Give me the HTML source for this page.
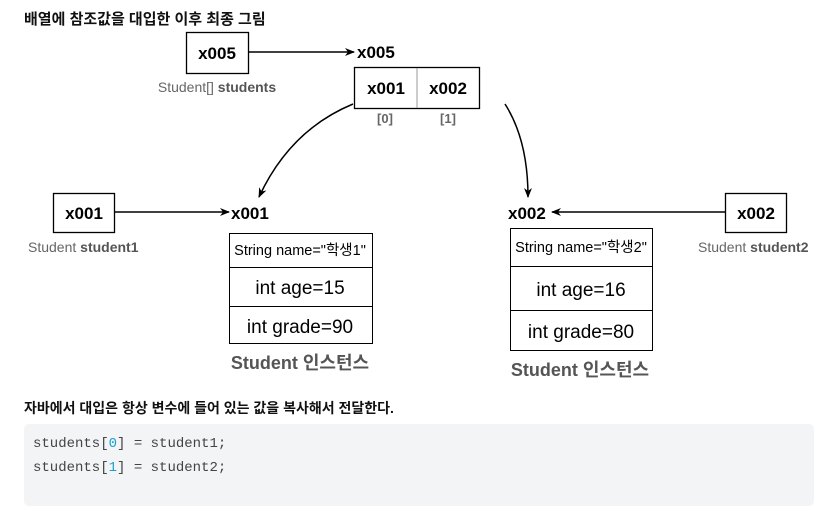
<!DOCTYPE html>
<html><head><meta charset="utf-8"><style>
body{margin:0;width:831px;height:529px;background:#fff;overflow:hidden;position:relative;font-family:"Liberation Sans","Noto Sans CJK KR",sans-serif}
.code{position:absolute;left:24px;top:424px;width:790px;height:82px;background:#f3f4f6;border-radius:5px}
.code pre{margin:0;padding:8px 0 0 9px;font-family:"Liberation Mono","DejaVu Sans Mono",monospace;font-size:14px;line-height:24px;color:#444}
.n{color:#1a9fd0}
</style></head><body>
<svg width="831" height="420" style="position:absolute;left:0;top:0" font-family="Liberation Sans, Noto Sans CJK KR, sans-serif">
<defs><marker id="a" markerWidth="10" markerHeight="8" refX="9" refY="4" orient="auto" markerUnits="userSpaceOnUse"><path d="M0,0 L10,4 L0,8 L3,4z" fill="#000"/></marker></defs>
<text x="24" y="24" font-size="15" font-weight="bold" fill="#111">배열에 참조값을 대입한 이후 최종 그림</text>
<rect x="186.5" y="32.5" width="62" height="41" fill="#fff" stroke="#000" stroke-width="1.3"/>
<text x="217" y="59" font-size="17" font-weight="bold" text-anchor="middle">x005</text>
<line x1="249" y1="52" x2="354" y2="52" stroke="#000" stroke-width="1.5" marker-end="url(#a)"/>
<text x="357" y="58" font-size="17" font-weight="bold">x005</text>
<text x="217" y="92" font-size="14" fill="#666" text-anchor="middle">Student[] <tspan font-weight="bold" fill="#555">students</tspan></text>
<rect x="354.5" y="67.5" width="125" height="41" fill="#fff" stroke="#000" stroke-width="1.3"/>
<line x1="417" y1="68" x2="417" y2="108" stroke="#999"/>
<text x="386" y="94" font-size="17" font-weight="bold" text-anchor="middle">x001</text>
<text x="448" y="94" font-size="17" font-weight="bold" text-anchor="middle">x002</text>
<text x="385" y="123" font-size="13" fill="#666" text-anchor="middle" font-weight="bold">[0]</text>
<text x="448" y="123" font-size="13" fill="#666" text-anchor="middle" font-weight="bold">[1]</text>
<path d="M353,104 Q290,130 259,197" fill="none" stroke="#000" stroke-width="1.5" marker-end="url(#a)"/>
<path d="M505,104 Q528,140 528,197" fill="none" stroke="#000" stroke-width="1.5" marker-end="url(#a)"/>
<rect x="53.5" y="193.5" width="61" height="39" fill="#fff" stroke="#000" stroke-width="1.3"/>
<text x="84" y="219" font-size="17" font-weight="bold" text-anchor="middle">x001</text>
<line x1="115" y1="212" x2="229" y2="212" stroke="#000" stroke-width="1.5" marker-end="url(#a)"/>
<text x="231" y="219" font-size="17" font-weight="bold">x001</text>
<text x="28" y="252" font-size="14" fill="#666">Student <tspan font-weight="bold" fill="#555">student1</tspan></text>
<rect x="229.5" y="233.5" width="143" height="110" fill="#fff" stroke="#000"/>
<line x1="229" y1="267.5" x2="372" y2="267.5" stroke="#000"/>
<line x1="229" y1="306.5" x2="372" y2="306.5" stroke="#000"/>
<text x="300" y="255" font-size="14.5" text-anchor="middle">String name="학생1"</text>
<text x="300" y="294" font-size="19" text-anchor="middle">int age=15</text>
<text x="300" y="333" font-size="19" text-anchor="middle">int grade=90</text>
<text x="300" y="369" font-size="18" font-weight="bold" fill="#555" text-anchor="middle">Student 인스턴스</text>
<rect x="725.5" y="193.5" width="61" height="39" fill="#fff" stroke="#000" stroke-width="1.3"/>
<text x="756" y="219" font-size="17" font-weight="bold" text-anchor="middle">x002</text>
<line x1="725" y1="212" x2="552" y2="212" stroke="#000" stroke-width="1.5" marker-end="url(#a)"/>
<text x="508" y="219" font-size="17" font-weight="bold">x002</text>
<text x="698" y="252" font-size="14" fill="#666">Student <tspan font-weight="bold" fill="#555">student2</tspan></text>
<rect x="510.5" y="228.5" width="142" height="122" fill="#fff" stroke="#000"/>
<line x1="510" y1="266.5" x2="652" y2="266.5" stroke="#000"/>
<line x1="510" y1="310.5" x2="652" y2="310.5" stroke="#000"/>
<text x="581" y="252" font-size="14.5" text-anchor="middle">String name="학생2"</text>
<text x="581" y="296" font-size="19" text-anchor="middle">int age=16</text>
<text x="581" y="338" font-size="19" text-anchor="middle">int grade=80</text>
<text x="580" y="376" font-size="18" font-weight="bold" fill="#555" text-anchor="middle">Student 인스턴스</text>
<text x="24" y="413" font-size="14" font-weight="bold" fill="#111">자바에서 대입은 항상 변수에 들어 있는 값을 복사해서 전달한다.</text>
</svg>
<div class="code"><pre>students[<span class="n">0</span>] = student1;
students[<span class="n">1</span>] = student2;</pre></div>
</body></html>
